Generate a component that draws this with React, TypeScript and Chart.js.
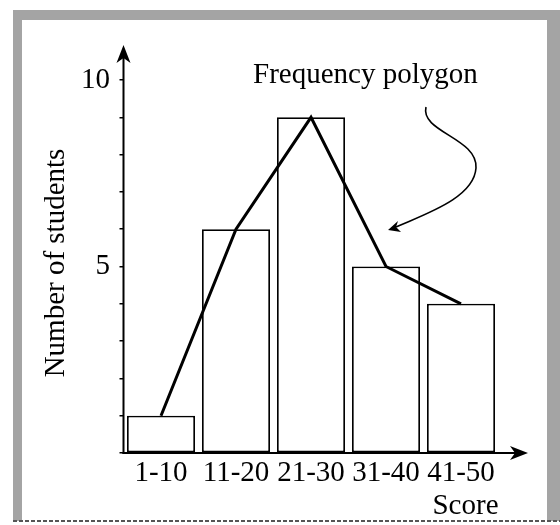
import { useEffect, useRef } from 'react';
import { Chart, registerables } from 'chart.js';

Chart.register(...registerables);

const categories = ['1-10', '11-20', '21-30', '31-40', '41-50'];
const studentCounts = [1, 6, 9, 5, 4];
const polygonValues = [1, 6, 9, 5, 4];
const labeledTicks = [5, 10];
const yAxisTitle = 'Number of students';
const xAxisTitle = 'Score';
const annotationText = 'Frequency polygon';

const FONT = "'Liberation Serif', 'Times New Roman', serif";
const FS = 29;

const decorations = {
  id: 'decorations',
  beforeDraw(chart: any) {
    const ctx = chart.ctx;
    ctx.save();
    ctx.fillStyle = '#ffffff';
    ctx.fillRect(0, 0, chart.width, chart.height);
    ctx.fillStyle = '#a4a4a4';
    ctx.fillRect(13, 10, 9, 511);
    ctx.fillRect(13, 10, 547 - 13, 10);
    ctx.fillRect(547, 10, 13, 511);
    ctx.strokeStyle = '#555';
    ctx.lineWidth = 2;
    ctx.setLineDash([4, 2]);
    ctx.beginPath();
    ctx.moveTo(13, 521);
    ctx.lineTo(560, 521);
    ctx.stroke();
    ctx.restore();
  },
  afterDraw(chart: any) {
    const { ctx, chartArea } = chart;
    const { left, right, top, bottom } = chartArea;
    ctx.save();
    ctx.strokeStyle = '#000';
    ctx.fillStyle = '#000';
    ctx.lineWidth = 2;
    // y axis with arrow
    const yTip = top - 28;
    ctx.beginPath();
    ctx.moveTo(left, bottom + 1);
    ctx.lineTo(left, yTip + 10);
    ctx.stroke();
    ctx.beginPath();
    ctx.moveTo(left, yTip);
    ctx.lineTo(left - 7, yTip + 18);
    ctx.lineTo(left, yTip + 13);
    ctx.lineTo(left + 7, yTip + 18);
    ctx.closePath();
    ctx.fill();
    // x axis with arrow
    const xTip = right + 29.5;
    ctx.beginPath();
    ctx.moveTo(left - 1, bottom);
    ctx.lineTo(xTip - 10, bottom);
    ctx.stroke();
    ctx.beginPath();
    ctx.moveTo(xTip, bottom);
    ctx.lineTo(xTip - 18, bottom - 7);
    ctx.lineTo(xTip - 13, bottom);
    ctx.lineTo(xTip - 18, bottom + 7);
    ctx.closePath();
    ctx.fill();

    // annotation
    ctx.font = `${FS}px ${FONT}`;
    ctx.textAlign = 'left';
    ctx.textBaseline = 'alphabetic';
    ctx.fillText(annotationText, 253, 83);

    // curvy pointer
    ctx.lineWidth = 1.6;
    ctx.beginPath();
    ctx.moveTo(426, 107);
    ctx.bezierCurveTo(420, 132, 478, 138, 476, 168);
    ctx.bezierCurveTo(474, 198, 425, 214, 396, 227);
    ctx.stroke();
    ctx.beginPath();
    ctx.moveTo(388, 230);
    ctx.lineTo(398, 221);
    ctx.lineTo(396, 227);
    ctx.lineTo(401, 232);
    ctx.closePath();
    ctx.fill();
    ctx.restore();
  },
};

export default function App() {
  const ref = useRef<HTMLCanvasElement>(null);
  useEffect(() => {
    if (!ref.current) return;
    const chart = new Chart(ref.current, {
      type: 'bar',
      data: {
        labels: categories,
        datasets: [
          {
            type: 'line',
            data: polygonValues,
            borderColor: '#000',
            borderWidth: 3,
            pointRadius: 0,
            tension: 0,
            fill: false,
            order: 0,
          } as any,
          {
            type: 'bar',
            data: studentCounts,
            backgroundColor: '#ffffff',
            borderColor: '#000',
            borderWidth: 1.8,
            borderSkipped: false,
            barPercentage: 68 / 75,
            categoryPercentage: 1,
            order: 1,
          },
        ],
      },
      options: {
        responsive: false,
        animation: false,
        layout: { padding: { left: 20, right: 61.5, top: 73, bottom: 0 } },
        plugins: { legend: { display: false }, tooltip: { enabled: false } },
        scales: {
          x: {
            grid: { display: false },
            border: { display: false },
            ticks: { color: '#000', font: { family: FONT, size: FS }, padding: -5, maxRotation: 0, autoSkip: false },
            title: {
              display: true,
              text: xAxisTitle,
              align: 'end',
              color: '#000',
              font: { family: FONT, size: FS },
              padding: { top: 0, bottom: 1 },
            },
            afterFit(scale: any) {
              scale.height = 72;
            },
          },
          y: {
            min: 0,
            max: (453 - 73) / 37.3,
            grid: { display: true, drawOnChartArea: false, drawTicks: true, tickLength: 4, color: '#000', lineWidth: 1.5 },
            border: { display: false },
            ticks: {
              stepSize: 1,
              includeBounds: false,
              color: '#000',
              padding: 9.5,
              font: { family: FONT, size: FS },
              callback: (v: any) => (labeledTicks.includes(Number(v)) ? String(v) : ''),
            },
            title: {
              display: true,
              text: yAxisTitle,
              color: '#000',
              font: { family: FONT, size: FS },
              padding: { top: 19, bottom: 0 },
            },
            afterFit(scale: any) {
              scale.width = 103.5;
            },
          },
        },
      },
      plugins: [decorations],
    });
    return () => chart.destroy();
  }, []);
  return (
    <div style={{ position: 'absolute', left: 0, top: 0, width: 560, height: 525 }}>
      <canvas ref={ref} width={560} height={525} style={{ width: 560, height: 525, display: 'block' }} />
    </div>
  );
}
